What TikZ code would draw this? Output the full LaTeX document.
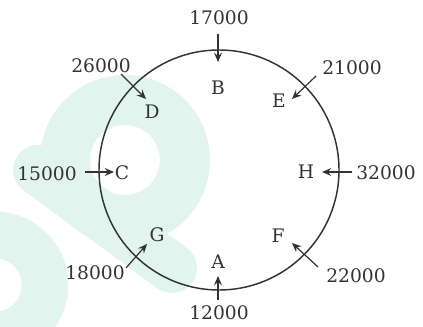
\documentclass[tikz,border=0pt]{standalone}
\usepackage{fontspec}
\setmainfont{DejaVu Serif}
\usetikzlibrary{arrows.meta}
\definecolor{ink}{HTML}{333333}
\definecolor{mint}{HTML}{E2F4EE}
\begin{document}
\begin{tikzpicture}[x=0.75pt,y=-0.75pt,
  lbl/.style={font=\fontsize{14pt}{16pt}\selectfont, text=ink, inner sep=0pt},
  arr/.style={draw=ink, line width=0.9pt, -{Stealth[length=7pt,width=6pt,inset=2.5pt]}},
  wm/.style={draw=mint, line width=37.5pt}]
\useasboundingbox (0,0) rectangle (423,327);
\fill[white] (0,0) rectangle (423,327);
% watermark
\draw[wm] (125,160) circle (60);
\draw[wm, line cap=round] (38,170) -- (172,268);
\draw[draw=mint, line width=35pt] (-5,285) circle (50);
% main circle
\node[draw=ink, line width=1.1pt, circle, minimum size=180pt, inner sep=0pt] (ring) at (219,170) {};
% letters
\node[lbl] (B) at (218,88) {B};
\node[lbl] (D) at (152,112) {D};
\node[lbl] (E) at (279,101) {E};
\node[lbl] (C) at (122,173) {C};
\node[lbl] (H) at (306,172) {H};
\node[lbl] (G) at (157,235) {G};
\node[lbl] (F) at (278,236) {F};
\node[lbl] (A) at (218,262) {A};
% values
\node[lbl] (n17) at (219,18) {17000};
\node[lbl] (n26) at (101,66) {26000};
\node[lbl] (n21) at (352,68) {21000};
\node[lbl] (n15) at (47,174) {15000};
\node[lbl] (n32) at (386,173) {32000};
\node[lbl] (n18) at (95,273) {18000};
\node[lbl] (n22) at (356,276) {22000};
\node[lbl] (n12) at (219,313) {12000};
% arrow ends
\coordinate (sB) at (218,34);  \coordinate (tB) at (218,62);
\coordinate (sD) at (121,74);  \coordinate (tD) at (146,99);
\coordinate (sE) at (316,76);  \coordinate (tE) at (292,99);
\coordinate (sC) at (85,172);  \coordinate (tC) at (114,172);
\coordinate (sH) at (352,172); \coordinate (tH) at (322,172);
\coordinate (sG) at (126,268); \coordinate (tG) at (147,244);
\coordinate (sF) at (318,267); \coordinate (tF) at (292,243);
\coordinate (sA) at (218,300); \coordinate (tA) at (218,276);
\foreach \k in {B,D,E,C,H,G,F,A}{\draw[arr] (s\k) -- (t\k);}
\end{tikzpicture}
\end{document}
